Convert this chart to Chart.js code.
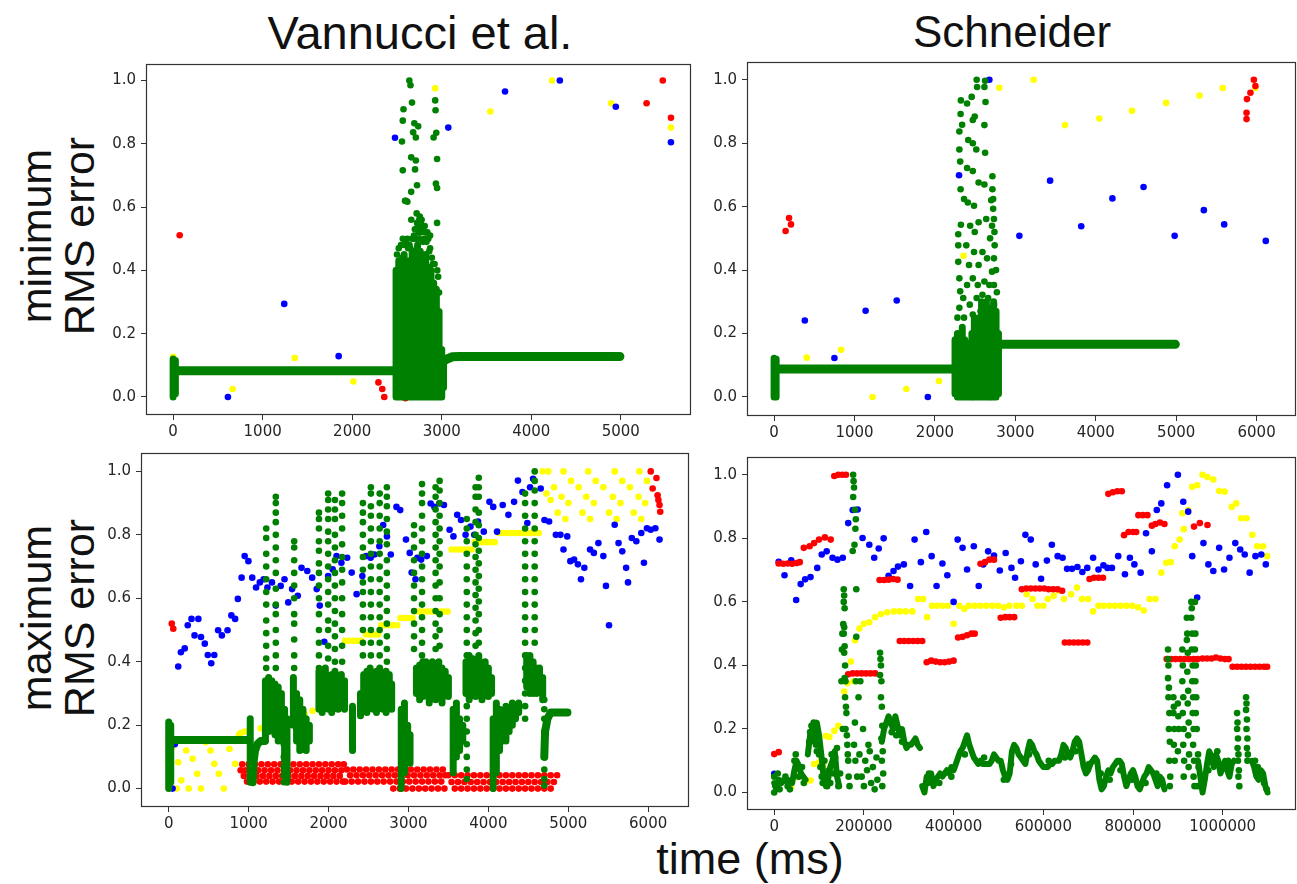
<!DOCTYPE html>
<html><head><meta charset="utf-8">
<script src="https://cdn.jsdelivr.net/npm/chart.js@4"></script>
<style>
html,body{margin:0;padding:0;background:#fff;overflow:hidden;width:1297px;height:884px;}
#wrap{position:relative;width:1297px;height:884px;overflow:hidden;background:#fff;}
canvas{position:absolute;}
.lbl{position:absolute;font-family:"Liberation Sans",Arial,sans-serif;color:#111;white-space:nowrap;line-height:1;}
.rot{transform:translate(-50%,-50%) rotate(-90deg);text-align:center;line-height:1.0;}
</style></head><body><div id="wrap">
<div class="lbl" style="left:420px;top:9px;font-size:47px;transform:translateX(-50%)">Vannucci et al.</div>
<div class="lbl" style="left:1012px;top:10px;font-size:44px;transform:translateX(-50%)">Schneider</div>
<div class="lbl rot" style="left:58px;top:236px;font-size:43px;">minimum<br>RMS error</div>
<div class="lbl rot" style="left:58px;top:618px;font-size:43px;">maximum<br>RMS error</div>
<div class="lbl" style="left:750px;top:836px;font-size:45px;transform:translateX(-50%)">time (ms)</div>
<canvas id="cTL"></canvas><canvas id="cTR"></canvas><canvas id="cBL"></canvas><canvas id="cBR"></canvas>
</div>
<script>
// ---------- tick labels ----------
const xTicksTL=[0,1000,2000,3000,4000,5000];
const xTicksTR=[0,1000,2000,3000,4000,5000,6000];
const xTicksBL=[0,1000,2000,3000,4000,5000,6000];
const xTicksBR=[0,200000,400000,600000,800000,1000000];
const yTicks=[0,0.2,0.4,0.6,0.8,1.0];

// ---------- top-left: Vannucci, minimum RMS error ----------
const tlRed=[[73,.511],[2293,.046],[2336,.025],[2358,.0],[2595,-.004],[5469,1.0],[5288,.928],[5560,.882]];
const tlYellow=[[0,.127],[664,.025],[1358,.123],[2013,.049],[2927,.975],[3543,.902],[4232,1.0],[4892,.928],[5560,.851]];
const tlBlue=[[612,0],[1241,.294],[1849,.129],[2478,.819],[3073,.851],[3707,.965],[4319,1.0],[4944,.917],[5560,.805]];
const tlGreenPaths=[[[20,.083],[2490,.083]],[[3010,.112],[3060,.12],[3120,.127],[3200,.128],[4990,.128]]];
const tlGreenCols=[[0,0,.12],[25,.01,.115],[2490,0,.4],[2520,0,.43],[2550,0,.38],[2580,0,.45],[2610,0,.42],[2640,0,.43],[2670,0,.46],[2700,0,.44],[2730,0,.48],[2760,0,.46],[2790,0,.43],[2820,0,.45],[2850,0,.41],[2880,0,.4],[2910,0,.36],[2940,0,.34],[2970,0,.27],[3000,0,.15],[3020,.03,.11]];
const tlGreen=[[2638,1.0],[2651,.985],[2573,.909],[2565,.873],[2556,.807],[2668,.93],[2694,.865],[2737,.855],[2711,.82],[2659,.757],[2711,.747],[2724,.669],[2659,.648],[2616,.617],[2565,.716],[2702,.719],[2927,.937],[2931,.906],[2939,.835],[2948,.752],[2935,.674],[2948,.66],[2948,.55],[2909,.82],[2681,.836],[2590,.62],[2600,.62],
[2500,.45],[2520,.47],[2545,.48],[2560,.44],[2565,.5],[2580,.48],[2600,.49],[2615,.5],[2625,.47],[2650,.47],[2660,.56],[2670,.5],[2680,.5],[2700,.53],[2710,.5],[2720,.58],[2740,.5],[2750,.56],[2760,.52],[2780,.53],[2790,.49],[2800,.5],[2820,.52],[2830,.49],[2850,.5],[2860,.46],[2870,.47],[2890,.44],[2900,.42],[2920,.42],[2950,.4],[2960,.38],[2970,.33],
[2735,.54],[2745,.52],[2755,.57],[2765,.55],[2725,.55],[2715,.53],[2690,.51],[2640,.48],[2870,.51],[2840,.52],[2810,.54],[2775,.56]];

// ---------- top-right: Schneider, minimum RMS error ----------
const trRed=[[143,.523],[186,.564],[210,.544],[5875,.876],[5875,.896],[5880,.939],[5923,.959],[5966,1.0],[5985,.98],[2471,0],[2686,0],[2758,.02]];
const trYellow=[[406,.124],[832,.149],[1224,0],[1644,.025],[2050,.05],[2356,.445],[2801,.975],[3227,1.0],[3618,.857],[4044,.878],[4450,.902],[4875,.927],[5291,.95],[5578,.974],[5985,.974]];
const trBlue=[[382,.241],[750,.123],[1138,.272],[1525,.304],[1912,0],[2300,.699],[2677,1.0],[3050,.508],[3432,.682],[3819,.538],[4207,.626],[4594,.662],[4981,.508],[5344,.589],[5597,.544],[6114,.492]];
const trGreenPaths=[[[25,.088],[2250,.088]],[[2790,.166],[4990,.166]]];
const trGreenCols=[[0,0,.122],[25,0,.12],[2250,.01,.18],[2280,0,.2],[2310,0,.2],[2340,0,.22],[2370,0,.18],[2400,0,.17],[2430,0,.15],[2460,0,.2],[2490,0,.25],[2520,0,.22],[2550,0,.25],[2580,0,.3],[2610,0,.25],[2640,0,.3],[2670,0,.27],[2700,0,.28],[2730,0,.3],[2760,0,.27],[2790,.01,.2]];
const trGreen=[[2323,.935],[2319,.892],[2338,.858],[2304,.837],[2304,.78],[2314,.742],[2319,.655],[2323,.543],[2290,.513],[2290,.478],[2290,.426],[2304,.374],[2314,.333],[2304,.281],[2280,.25],
[2400,.925],[2457,.946],[2495,.884],[2519,1.0],[2524,.977],[2471,.873],[2414,.81],[2471,.8],[2514,.78],[2400,.722],[2471,.712],[2362,.624],[2409,.613],[2486,.603],[2543,.676],[2615,.67],[2624,.77],[2615,.857],[2615,.977],[2624,.997],[2629,.93],[2715,.696],[2715,.655],[2724,.624],[2724,.593],[2734,.561],[2710,.54],[2686,.5],[2638,.561],[2543,.551],[2495,.52],[2438,.54],[2390,.478],[2424,.416],[2486,.457],[2543,.416],[2591,.457],[2648,.437],[2710,.395],[2677,.353],[2615,.364],[2533,.353],[2471,.374],[2400,.353],[2352,.312],[2433,.291],[2519,.312],[2591,.322],[2662,.312],[2734,.291],[2362,.25],[2471,.26],[2567,.27],[2638,.281],[2734,.353],[2734,.437],[2743,.478],[2700,.62],[2740,.52],[2760,.4],[2770,.33]];

// ---------- bottom-left: Vannucci, maximum RMS error ----------
const blRed=[[38,.52],[57,.504],[6032,1.0],[6104,.979],[6056,.946],[6118,.925],[6128,.91],[6142,.894],[6151,.873]];
const blRedRows=[
[.077,[920,1000,1080,1160,1240,1320,1400,1480,1560,1640,1720,1800,1880,1960,2040,2120,2190]],
[.058,[900,960,1040,1120,1200,1280,1360,1440,1520,1600,1680,1760,1840,1920,2000,2080,2160]],
[.04,[940,1020,1100,1180,1260,1340,1420,1500,1580,1660,1740,1820,1900,1980,2060,2140]],
[.022,[980,1060,1140,1220,1300,1380,1460,1540,1620,1700,1780,1860,1940,2020,2100,2180]],
[.06,[2230,2310,2390,2470,2550,2630,2710,2790,2870,2950,3030,3110,3190,3270,3350,3430]],
[.042,[2270,2350,2430,2510,2590,2670,2750,2830,2910,2990,3070,3150,3230,3310,3390,3460]],
[.022,[2210,2290,2370,2450,2530,2610,2690,2770,2850,2930,3010,3090,3170,3250,3330,3410]],
[0,[2810,2890,2970,3050,3130,3210,3290,3370,3450]],
[.042,[3500,3580,3660,3740,3820,3900,3980,4060,4140,4220,4300,4380,4460,4540,4620,4700,4780,4860]],
[.021,[3540,3620,3700,3780,3860,3940,4020,4100,4180,4260,4340,4420,4500,4580,4660,4740,4820]],
[0,[3580,3660,3740,3820,3900,3980,4060,4140,4220,4300,4380,4460,4540,4620,4700,4780]]];
const blBlue=[[48,0],[76,.14],[119,.385],[152,.43],[200,.442],[238,.515],[285,.535],[323,.483],[371,.535],[404,.478],[451,.457],[489,.421],[532,.395],[570,.421],[618,.499],[665,.483],[736,.499],[784,.546],[831,.535],[865,.598],[912,.665],[950,.733],[997,.717],[1045,.665],[1093,.634],[1140,.65],[1188,.66],[1235,.634],[1292,.65],[1340,.577],[1401,.639],[1449,.66],[1496,.587],[1544,.629],[1615,.608],[1662,.696],[1734,.686],[1795,.665],[1852,.629],[1890,.577],[1947,.463],[1995,.67],[2052,.691],[2100,.733],[2161,.712],[2233,.728],[2290,.681],[2351,.613],[2423,.67],[2470,.733],[2527,.728],[2575,.738],[2636,.764],[2684,.831],[2731,.795],[2779,.738],[2850,.888],[2897,.878],[2969,.785],[3016,.743],[3040,.681],[3088,.66],[3111,.728],[3159,.722],[3230,.733],[3278,.899],[3325,.888],[3387,.899],[3444,.894],[3515,.816],[3563,.795],[3610,.863],[3658,.847],[3715,.8],[3776,.826],[3824,.8],[3871,.842],[3943,.81],[4014,.904],[4061,.888],[4109,.81],[4180,.894],[4251,.863],[4322,.904],[4370,.971],[4427,.935],[4488,.837],[4522,.95],[4560,.977],[4655,.946],[4702,.847],[4760,.842],[4845,.8],[4902,.8],[4940,.754],[4987,.795],[5026,.717],[5073,.722],[5121,.707],[5159,.66],[5201,.696],[5273,.754],[5320,.743],[5377,.774],[5439,.733],[5472,.639],[5510,.515],[5581,.832],[5629,.774],[5676,.748],[5724,.696],[5748,.65],[5795,.79],[5852,.78],[5914,.806],[5947,.712],[5985,.821],[6032,.816],[6090,.821],[6142,.785]];
const blYellow=[[40,.13],[119,.083],[157,.026],[219,.12],[299,.094],[356,.047],[404,0],[465,.146],[523,.12],[570,.078],[627,.047],[689,0],[760,.125],[831,.078],[879,.17],[950,.18],[250,0],[100,0],
[900,.175],[1000,.18],[1150,.19],[1250,.2],[1400,.21],[1550,.22],[1700,.235],[1800,.245],[1900,.26],[2000,.3],[2100,.34],
[2209,.466],[2260,.466],[2310,.466],[2360,.466],[2410,.466],[2470,.486],[2520,.486],[2570,.486],[2620,.486],[2660,.515],[2710,.515],[2760,.515],[2810,.515],[2860,.515],[2900,.538],[2950,.538],[3000,.538],[3050,.538],[3090,.558],[3140,.558],[3190,.558],[3240,.558],[3290,.558],[3340,.558],[3390,.558],[3440,.558],[3490,.558],[3540,.754],[3590,.754],[3640,.754],[3690,.754],[3740,.754],[3790,.754],[3830,.777],[3880,.777],[3930,.777],[3980,.777],[4030,.777],[4080,.777],[4130,.806],[4180,.806],[4230,.806],[4280,.806],[4330,.806],[4380,.806],[4430,.806],[4480,.806],[4530,.806],[4580,.806],[4630,.806],
[4679,1],[4750,1],[4940,1],[5249,1],[5581,1],[5890,1],[5035,.97],[5344,.97],[5676,.97],[5985,.97],[4821,.95],[5130,.95],[5439,.95],[5771,.95],[4916,.92],[5225,.92],[5558,.92],[5880,.92],[5002,.9],[5320,.9],[5653,.9],[5962,.9],[4868,.87],[5178,.87],[5510,.87],[5819,.87],[4964,.85],[5273,.85],[5605,.85],[5914,.85],[4726,.93],[4780,.91]];
const blGreenPaths=[[[30,.153],[990,.153]],[[1050,.02],[1060,.08],[1080,.12],[1110,.14],[1150,.15],[1200,.15]],[[4700,.1],[4710,.18],[4740,.22],[4780,.24],[4990,.24]]];
const blGreenCols=[[0,0,.21],[25,.02,.2],[1020,.02,.22],[1210,.15,.34],[1250,.18,.35],[1290,.2,.34],[1330,.17,.33],[1370,.15,.32],[1410,.2,.3],[1450,.05,.25],[1480,.02,.22],
[1560,.2,.35],[1600,.15,.3],[1640,.12,.28],[1680,.15,.25],[1720,.12,.22],[1760,.15,.2],
[1880,.25,.37],[1920,.24,.36],[1960,.26,.38],[2000,.25,.35],[2040,.24,.36],[2080,.26,.37],[2120,.25,.35],[2160,.27,.36],[2200,.25,.34],[2300,.12,.26],
[2400,.23,.3],[2440,.25,.36],[2480,.24,.37],[2520,.27,.38],[2560,.25,.36],[2600,.24,.37],[2640,.26,.38],[2680,.25,.35],[2720,.24,.37],[2760,.26,.36],[2790,.25,.33],
[2910,0,.25],[2950,.05,.27],[2990,.1,.2],[3020,.08,.17],
[3100,.3,.38],[3140,.28,.39],[3180,.29,.4],[3220,.3,.4],[3260,.27,.39],[3300,.3,.4],[3340,.28,.38],[3380,.3,.4],[3420,.27,.38],[3460,.3,.37],[3500,.29,.35],
[3560,.05,.25],[3600,.1,.27],[3640,.12,.22],[3680,.15,.2],
[3720,.3,.4],[3760,.28,.42],[3800,.3,.41],[3840,.29,.4],[3880,.3,.42],[3920,.28,.39],[3960,.3,.4],[4000,.29,.38],[4040,.3,.35],
[4060,0,.22],[4100,.05,.27],[4140,.12,.25],[4180,.15,.22],[4220,.15,.26],[4260,.18,.25],[4300,.2,.27],[4340,.22,.26],[4380,.24,.27],
[4480,.32,.42],[4520,.3,.42],[4560,.3,.4],[4600,.3,.38],[4640,.32,.38],[4680,.28,.35]];
const blGreenDots=[
[1220,[.82,.79,.74,.70,.66,.62,.58,.53,.49,.45,.41,.38]],
[1340,[.92,.9,.87,.84,.8,.76,.72,.68,.63,.58,.55,.5,.46,.42,.38]],
[1570,[.78,.76,.72,.68,.64,.6,.55,.52,.47,.42,.38]],
[1440,[.22,.18,.14,.1,.07,.04,.02]],
[1880,[.87,.85,.82,.78,.75,.71,.68,.64,.6,.55,.5,.46,.42,.38]],
[1995,[.93,.91,.88,.85,.81,.78,.74,.7,.66,.62,.58,.53,.5,.45,.41]],
[2080,[.91,.88,.85,.8,.76,.72,.68,.64,.6,.56,.52,.48,.44,.4]],
[2170,[.93,.9,.86,.82,.77,.73,.69,.65,.6,.55,.5,.45,.4]],
[2430,[.9,.87,.84,.8,.76,.73,.69,.65,.62,.58,.54,.5,.46,.42]],
[2530,[.95,.93,.89,.86,.82,.78,.74,.7,.66,.62,.58,.54,.5,.46,.42]],
[2640,[.93,.9,.86,.82,.78,.74,.7,.66,.62,.58,.54,.5,.46,.42]],
[2730,[.95,.92,.89,.85,.81,.77,.72,.68,.64,.6,.56,.52,.48,.44,.4]],
[3070,[.83,.8,.76,.72,.68,.64,.6,.56,.52,.48,.44]],
[3170,[.96,.93,.9,.86,.82,.78,.74,.7,.66,.62,.58,.54,.5,.46,.42]],
[3340,[.95,.92,.88,.84,.8,.76,.72,.68,.64,.6,.56,.52,.48,.44]],
[3390,[.97,.94,.9,.86,.82,.78,.74,.7,.65,.6,.55,.5,.45]],
[3730,[.85,.82,.78,.74,.7,.66,.62,.58,.54,.5,.46,.42,.38,.34,.3,.26,.22,.18,.14,.1,.06,.03]],
[3840,[.95,.92,.88,.84,.8,.77,.73,.69,.65,.61,.57,.53,.49,.45]],
[3880,[.98,.95,.92,.87,.83,.79,.75,.71,.67,.63,.59,.55,.5,.46]],
[4460,[.93,.9,.86,.82,.78,.74,.7,.66,.62,.58,.54,.5,.46,.42,.38,.34,.3,.26,.22]],
[4580,[1.0,.97,.94,.9,.86,.82,.78,.74,.7,.66,.62,.58,.54,.5,.46]],
[4700,[.28,.25,.22,.18,.14,.1,.06,.03,.01]]];

// ---------- bottom-right: Schneider, maximum RMS error ----------
const brRed=[[0,.121],[10000,.127],[10000,.721],[20000,.72],[30000,.721],[40000,.72],[50000,.722],[57000,.725],[66000,.77],[79000,.775],[89000,.785],[100000,.796],[113000,.803],[126000,.796],[134000,.996],[143000,1.0],[152000,1.0],[160000,1.0],
[165000,.372],[175000,.375],[185000,.375],[195000,.375],[205000,.375],[215000,.375],[225000,.375],[235000,.669],[245000,.669],[255000,.67],[265000,.672],[275000,.67],
[280000,.477],[290000,.477],[300000,.477],[310000,.477],[320000,.477],[330000,.477],[340000,.41],[350000,.415],[360000,.412],[370000,.41],[380000,.41],[390000,.412],[400000,.415],
[410000,.488],[420000,.49],[430000,.495],[440000,.5],[447000,.5],[460000,.72],[470000,.725],[480000,.733],[490000,.733],[505000,.55],[515000,.552],[525000,.552],[535000,.552],
[552000,.64],[562000,.642],[572000,.642],[582000,.642],[592000,.642],[602000,.642],[612000,.64],[622000,.64],[632000,.64],[642000,.635],[648000,.472],[658000,.472],[668000,.472],[678000,.472],[688000,.472],[698000,.472],
[703000,.672],[713000,.676],[723000,.676],[733000,.676],[745000,.94],[755000,.945],[765000,.948],[775000,.948],[780000,.81],[790000,.82],[800000,.82],[807000,.82],[812000,.873],[822000,.873],[832000,.873],[842000,.84],[850000,.845],[860000,.85],[870000,.845],
[875000,.42],[885000,.42],[895000,.42],[905000,.42],[915000,.42],[925000,.42],[935000,.42],[944000,.42],[936000,.837],[949000,.848],[966000,.842],
[955000,.422],[965000,.422],[975000,.422],[985000,.425],[995000,.422],[1005000,.42],[1013000,.42],[1022000,.396],[1032000,.396],[1042000,.396],[1052000,.396],[1062000,.396],[1072000,.396],[1082000,.396],[1092000,.396],[1099000,.396]];
const brBlue=[[0,.059],[10000,.726],[23000,.684],[38000,.731],[49000,.606],[59000,.656],[69000,.671],[81000,.678],[96000,.707],[106000,.749],[117000,.759],[130000,.739],[141000,.733],[153000,.739],[165000,.848],[175000,.889],[186000,.891],[197000,.801],[212000,.78],[223000,.739],[233000,.768],[244000,.8],[255000,.682],[266000,.697],[276000,.711],[289000,.718],[303000,.65],[313000,.796],[327000,.725],[339000,.82],[351000,.744],[362000,.65],[375000,.721],[386000,.684],[400000,.6],[409000,.796],[420000,.77],[430000,.702],[445000,.775],[456000,.65],[466000,.718],[477000,.759],[490000,.746],[503000,.699],[516000,.754],[529000,.707],[537000,.676],[550000,.728],[560000,.811],[572000,.796],[583000,.718],[595000,.673],[608000,.73],[619000,.78],[632000,.744],[643000,.739],[653000,.704],[664000,.704],[676000,.71],[687000,.694],[698000,.707],[711000,.739],[723000,.702],[734000,.715],[743000,.707],[753000,.707],[767000,.744],[782000,.687],[793000,.739],[803000,.718],[817000,.692],[829000,.816],[842000,.759],[853000,.889],[863000,.91],[876000,.967],[900000,1.0],[912000,.915],[923000,.884],[932000,.744],[943000,.614],[957000,.785],[968000,.718],[979000,.697],[992000,.77],[1003000,.702],[1015000,.739],[1028000,.785],[1039000,.765],[1049000,.749],[1060000,.692],[1073000,.744],[1086000,.749],[1096000,.718]];
const brYellow=[[10000,.028],[38000,.018],[53000,.049],[69000,.033],[81000,.038],[89000,.09],[100000,.095],[109000,.085],[115000,.178],[123000,.175],[134000,.194],[143000,.21],[156000,.318],[163000,.344],[171000,.412],[177000,.35],[180000,.479],[190000,.516],[200000,.531],[212000,.536],[225000,.552],[238000,.562],[252000,.567],[267000,.57],[280000,.57],[293000,.57],[308000,.57],[321000,.609],[332000,.609],[341000,.552],[352000,.588],[363000,.588],[375000,.588],[387000,.588],[400000,.531],[413000,.588],[424000,.578],[434000,.588],[447000,.588],[460000,.588],[473000,.588],[486000,.588],[499000,.588],[512000,.583],[524000,.588],[540000,.588],[552000,.588],[563000,.624],[576000,.609],[587000,.588],[600000,.588],[610000,.609],[623000,.619],[634000,.635],[646000,.609],[662000,.624],[675000,.645],[686000,.609],[700000,.609],[711000,.57],[723000,.588],[734000,.588],[747000,.588],[760000,.588],[773000,.588],[785000,.588],[798000,.588],[811000,.583],[824000,.573],[837000,.609],[850000,.609],[863000,.692],[874000,.723],[884000,.725],[893000,.775],[904000,.796],[910000,.879],[913000,.829],[923000,.889],[932000,.962],[943000,.967],[955000,1.0],[966000,.993],[979000,.985],[992000,.949],[1004000,.947],[1020000,.899],[1030000,.91],[1041000,.863],[1053000,.863],[1066000,.811],[1077000,.775],[1090000,.775],[1099000,.744]];
const brGreenPaths=[
[[0,.03],[5000,.01],[10000,.04],[20000,.035],[30000,.04],[40000,.03],[45000,.07],[50000,.1],[55000,.08],[60000,.06],[65000,.05],[70000,.04]],
[[75000,.12],[80000,.18],[85000,.2],[90000,.16],[95000,.22],[100000,.18],[105000,.12],[110000,.05],[115000,.02],[120000,.04],[125000,.08],[130000,.1],[135000,.13],[140000,.05],[145000,.02]],
[[240000,.16],[245000,.2],[250000,.22],[255000,.24],[260000,.22],[265000,.2],[270000,.24],[275000,.21],[280000,.18],[285000,.2],[290000,.16],[295000,.14],[300000,.15],[305000,.15],[310000,.16],[315000,.17],[320000,.15],[325000,.14]],
[[330000,.02],[335000,.0],[340000,.05],[345000,.03],[350000,.06],[355000,.02],[360000,.04],[365000,.05],[370000,.06],[375000,.05],[380000,.06],[385000,.07],[390000,.06],[395000,.08],[400000,.07],[405000,.09],[410000,.11],[415000,.13],[420000,.14],[425000,.16],[430000,.18],[435000,.15],[440000,.13],[445000,.11],[450000,.1],[455000,.09],[460000,.1],[465000,.09],[470000,.09],[475000,.09],[480000,.09],[485000,.1],[490000,.12],[495000,.11],[500000,.1],[505000,.1],[510000,.07],[515000,.05],[520000,.04],[525000,.06],[530000,.13],[535000,.15],[540000,.14],[545000,.12],[550000,.11],[555000,.1],[560000,.09],[565000,.13],[570000,.16],[575000,.15],[580000,.13],[585000,.12],[590000,.1],[595000,.09],[600000,.08],[605000,.08],[610000,.08],[615000,.09],[620000,.09],[625000,.1],[630000,.1],[635000,.1],[640000,.12],[645000,.15],[650000,.14],[655000,.12],[660000,.11],[665000,.13],[670000,.16],[675000,.17],[680000,.16],[685000,.12],[690000,.08],[695000,.06],[700000,.07],[705000,.09],[710000,.1],[715000,.11],[720000,.1],[725000,.04],[730000,.01],[735000,.02],[740000,.05],[745000,.07],[750000,.06],[755000,.08],[760000,.09],[765000,.1],[770000,.1],[775000,.09],[780000,.05],[785000,.02],[790000,.04],[795000,.06],[800000,.07],[805000,.05],[810000,.02],[815000,.01],[820000,.03],[825000,.05],[830000,.06],[835000,.08],[840000,.07],[845000,.06],[850000,.04],[855000,.02],[860000,.05],[865000,.04],[870000,.01]],
[[945000,.1],[950000,.05],[955000,.0],[960000,.04],[965000,.09],[970000,.13],[975000,.11],[980000,.08],[985000,.12],[990000,.1],[995000,.06],[1000000,.08],[1005000,.1],[1010000,.07],[1015000,.05],[1020000,.09],[1025000,.1]],
[[1065000,.1],[1070000,.08],[1075000,.05],[1080000,.04],[1085000,.07],[1090000,.06],[1095000,.02],[1100000,.0]]];
const brGreen=[[0,0],[0,.05],[3000,.02],[8000,.06],[12000,.01],[15000,.03],[25000,.05],[30000,.02],[35000,.01],[45000,.1],[48000,.12],[52000,.09],[55000,.05],[62000,.08],[66000,.03],
[78000,.16],[80000,.19],[83000,.21],[86000,.18],[88000,.22],[90000,.2],[93000,.15],[95000,.13],[98000,.17],[100000,.12],[103000,.08],[106000,.05],[108000,.03],
[112000,.1],[115000,.06],[118000,.02],[122000,.07],[125000,.03],[128000,.12],[130000,.09],[133000,.06],[136000,.11],[140000,.14],[143000,.02],[147000,.06],
[150000,.35],[151000,.45],[152000,.5],[153000,.2],[155000,.64],[156000,.62],[155000,.6],[157000,.58],[154000,.53],[156000,.52],[155000,.5],[157000,.46],[156000,.44],[158000,.4],[157000,.36],[159000,.35],[158000,.3],[160000,.27],[161000,.25],[159000,.2],[162000,.18],[163000,.15],[164000,.12],[165000,.1],[166000,.05],[168000,.02],
[176000,1.0],[177000,.98],[178000,.96],[176000,.93],[180000,.89],[182000,.86],[181000,.83],[179000,.78],[175000,.76],[183000,.64],[183000,.49],[182000,.35],[180000,.22],[178000,.15],[181000,.1],[185000,.05],
[188000,.3],[190000,.12],[192000,.35],[195000,.05],[198000,.2],[200000,.02],[203000,.1],[207000,.07],[210000,.15],[213000,.13],[216000,.03],[220000,.08],[224000,.01],[228000,.11],[230000,.04],
[236000,.44],[237000,.42],[238000,.4],[236000,.37],[239000,.35],[238000,.3],[240000,.27],[241000,.21],[239000,.17],[242000,.13],[240000,.1],[243000,.06],[241000,.02],
[878000,.45],[878000,.42],[879000,.4],[878000,.36],[880000,.33],[879000,.3],[881000,.25],[880000,.2],[882000,.16],[881000,.1],[883000,.05],[882000,.02],
[890000,.3],[891000,.27],[890000,.25],[892000,.2],[891000,.15],[893000,.1],[900000,.28],[901000,.24],[902000,.2],[900000,.13],
[910000,.35],[911000,.4],[910000,.45],[912000,.3],[911000,.25],[913000,.2],[912000,.15],[914000,.1],[913000,.05],
[920000,.55],[921000,.5],[920000,.48],[922000,.44],[921000,.38],[923000,.32],[922000,.28],[924000,.22],[923000,.18],[925000,.12],[924000,.08],
[930000,.6],[931000,.58],[930000,.55],[932000,.5],[931000,.45],[933000,.4],[932000,.35],[934000,.3],[933000,.25],[935000,.2],[934000,.15],[936000,.1],[935000,.05],[937000,.02],
[938000,.6],[939000,.5],[938000,.45],[940000,.4],[939000,.35],[941000,.3],[940000,.25],[942000,.2],[945000,.12],[946000,.08],[944000,.02],
[1032000,.25],[1033000,.22],[1032000,.2],[1034000,.17],[1033000,.14],[1035000,.12],[1034000,.1],[1036000,.07],[1035000,.05],[1037000,.02],
[1052000,.3],[1053000,.28],[1052000,.26],[1054000,.23],[1053000,.2],[1055000,.17],[1054000,.14],[1056000,.12],[1055000,.1],
[1072000,.1],[1078000,.08],[1085000,.05],[1092000,.03],[1098000,.01],
[262000,.19],[272000,.18],[285000,.16],[345000,.06],[368000,.03],[395000,.05],[425000,.12],[468000,.11],[512000,.04],[528000,.09],[568000,.12],[612000,.1],[648000,.11],[672000,.13],[702000,.09],[728000,.06],[748000,.04],[772000,.07],[798000,.04],[828000,.03],[852000,.06],[968000,.07],[988000,.13],[1012000,.1]];

// ---------- colours ----------
const GREEN='#008000', RED='#ff0000', BLUE='#0000ff', YELLOW='#ffff00';

// ---------- helpers (convert arrays to chart data) ----------
const P=a=>a.map(p=>({x:p[0],y:p[1]}));
const colsToSegs=a=>{const o=[];a.forEach(s=>{o.push({x:s[0],y:s[1]},{x:s[0],y:s[2]},{x:s[0],y:null});});return o;};
const pathsToLine=a=>{const o=[];a.forEach(p=>{p.forEach(q=>o.push({x:q[0],y:q[1]}));o.push({x:p[p.length-1][0],y:null});});return o;};
const dotCols=a=>{const o=[];a.forEach(c=>c[1].forEach(y=>o.push({x:c[0],y})));return o;};
const rowsToPts=a=>{const o=[];a.forEach(r=>r[1].forEach(x=>o.push({x,y:r[0]})));return o;};
const dots=(data,c)=>({data,backgroundColor:c,borderColor:c,pointRadius:3.3,pointBorderWidth:0,showLine:false});
const line=(data,c,w)=>({data,borderColor:c,backgroundColor:c,borderWidth:w,pointRadius:0,showLine:true,spanGaps:false,borderCapStyle:'round',borderJoinStyle:'round',tension:0});

const framePlugin={id:'frame',afterDatasetsDraw(ch){const {ctx,chartArea:a}=ch;ctx.save();ctx.strokeStyle='#333';ctx.lineWidth=1.2;ctx.strokeRect(a.left+.5,a.top+.5,a.right-a.left-1,a.bottom-a.top-1);ctx.restore();}};

const YW=70, PADT=10, XH=36;
function panel(id,fr,xr,xt,yr,datasets){
  const cv=document.getElementById(id);
  const L=fr[0]-YW, T=fr[2]-PADT, W=fr[1]-L, H=fr[3]-T+XH;
  cv.width=W; cv.height=H; cv.style.left=L+'px'; cv.style.top=T+'px'; cv.style.width=W+'px'; cv.style.height=H+'px';
  const tf={family:'"DejaVu Sans"',size:15};
  new Chart(cv,{type:'scatter',data:{datasets},plugins:[framePlugin],
    options:{responsive:false,animation:false,devicePixelRatio:1,events:[],
      layout:{padding:{top:PADT,left:0,right:0,bottom:0}},
      plugins:{legend:{display:false},tooltip:{enabled:false}},
      scales:{
        x:{type:'linear',min:xr[0],max:xr[1],afterBuildTicks:s=>{s.ticks=xt.map(v=>({value:v}));},afterFit:s=>{s.height=XH;},
           grid:{display:true,drawOnChartArea:false,drawTicks:true,tickLength:5,color:'#333'},border:{display:false},
           ticks:{font:tf,color:'#262626',padding:3,maxRotation:0,autoSkip:false,callback:v=>String(v)}},
        y:{type:'linear',min:yr[0],max:yr[1],afterBuildTicks:s=>{s.ticks=yTicks.map(v=>({value:v}));},afterFit:s=>{s.width=YW;},
           grid:{display:true,drawOnChartArea:false,drawTicks:true,tickLength:5,color:'#333'},border:{display:false},
           ticks:{font:tf,color:'#262626',padding:5,autoSkip:false,callback:v=>Number(v).toFixed(1)}}
      }}});
}

panel('cTL',[146,695,60,415],[-303,5784],xTicksTL,[-0.057,1.052],[
  line(pathsToLine(tlGreenPaths),GREEN,9),line(colsToSegs(tlGreenCols),GREEN,7),dots(P(tlGreen),GREEN),
  dots(P(tlRed),RED),dots(P(tlBlue),BLUE),dots(P(tlYellow),YELLOW)]);
panel('cTR',[747,1300,58,416],[-337,6490],xTicksTR,[-0.060,1.056],[
  line(pathsToLine(trGreenPaths),GREEN,9),line(colsToSegs(trGreenCols),GREEN,7),dots(P(trGreen),GREEN),
  dots(P(trRed),RED),dots(P(trBlue),BLUE),dots(P(trYellow),YELLOW)]);
panel('cBL',[141,693,449,807],[-347,6511],xTicksBL,[-0.058,1.058],[
  line(pathsToLine(blGreenPaths),GREEN,8),line(colsToSegs(blGreenCols),GREEN,7),dots(dotCols(blGreenDots),GREEN),
  dots(P(blRed).concat(rowsToPts(blRedRows)),RED),dots(P(blBlue),BLUE),dots(P(blYellow),YELLOW)]);
panel('cBR',[747,1300,453,810],[-60650,1163350],xTicksBR,[-0.055,1.056],[
  line(pathsToLine(brGreenPaths),GREEN,6),dots(P(brGreen),GREEN),
  dots(P(brRed),RED),dots(P(brBlue),BLUE),dots(P(brYellow),YELLOW)]);
</script></body></html>
